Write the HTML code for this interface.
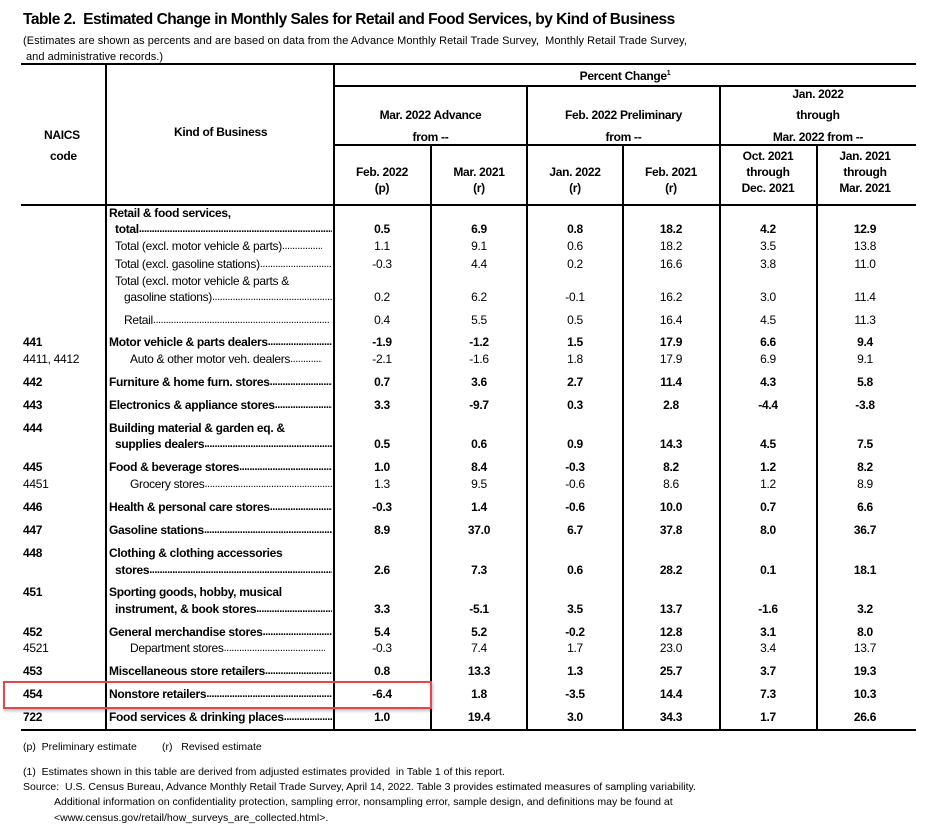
<!DOCTYPE html>
<html><head><meta charset="utf-8"><style>
body{margin:0;width:936px;height:840px;background:#fff;position:relative;font-family:"Liberation Sans",Arial,sans-serif;color:#000;overflow:hidden}
.a{position:absolute;white-space:nowrap;line-height:16px;font-size:12px;letter-spacing:-0.3px}
.b{font-weight:bold}
.c{text-align:center;width:96px}
.h{position:absolute;background:#000}
.l{position:absolute;display:flex;line-height:16px;font-size:12px;letter-spacing:-0.3px;white-space:nowrap;overflow:hidden}
.l .d{flex:1;overflow:hidden;letter-spacing:-0.5px;font-size:11px}
.l .d::after{content:" ........................................................................................................................"}
.f{font-size:10.5px;letter-spacing:0}
</style></head><body>
<div class="a b" style="left:23px;top:10px;font-size:15.5px;line-height:20px;letter-spacing:-0.5px">Table 2.&nbsp; Estimated Change in Monthly Sales for Retail and Food Services, by Kind of Business</div>
<div class="a" style="left:23px;top:33px;font-size:11px;letter-spacing:0.05px">(Estimates are shown as percents and are based on data from the Advance Monthly Retail Trade Survey,&nbsp; Monthly Retail Trade Survey,</div>
<div class="a" style="left:26px;top:49px;font-size:11px;letter-spacing:0.05px">and administrative records.)</div>

<div class="h" style="left:21px;top:63px;width:895px;height:2px"></div>
<div class="h" style="left:334px;top:85px;width:582px;height:2px"></div>
<div class="h" style="left:334px;top:144px;width:582px;height:2px"></div>
<div class="h" style="left:21px;top:204px;width:895px;height:2px"></div>
<div class="h" style="left:21px;top:729px;width:895px;height:2px"></div>
<div class="h" style="left:105px;top:63px;width:2px;height:668px"></div>
<div class="h" style="left:333px;top:63px;width:2px;height:668px"></div>
<div class="h" style="left:430px;top:144px;width:2px;height:587px"></div>
<div class="h" style="left:526px;top:85px;width:2px;height:646px"></div>
<div class="h" style="left:622px;top:144px;width:2px;height:587px"></div>
<div class="h" style="left:719px;top:85px;width:2px;height:646px"></div>
<div class="h" style="left:816px;top:144px;width:2px;height:587px"></div>

<div class="a b" style="left:44px;top:127px">NAICS</div>
<div class="a b" style="left:50px;top:148px">code</div>
<div class="a b" style="left:174px;top:124px">Kind of Business</div>
<div class="a b c" style="left:334px;top:66px;width:582px">Percent Change<sup style="font-size:7px">1</sup></div>
<div class="a b c" style="left:334px;top:107px;width:193px">Mar. 2022 Advance</div>
<div class="a b c" style="left:334px;top:129px;width:193px">from --</div>
<div class="a b c" style="left:527px;top:107px;width:193px">Feb. 2022 Preliminary</div>
<div class="a b c" style="left:527px;top:129px;width:193px">from --</div>
<div class="a b c" style="left:720px;top:86px;width:196px">Jan. 2022</div>
<div class="a b c" style="left:720px;top:107px;width:196px">through</div>
<div class="a b c" style="left:720px;top:129px;width:196px">Mar. 2022 from --</div>
<div class="a b c" style="left:334px;top:164px">Feb. 2022<br>(p)</div>
<div class="a b c" style="left:431px;top:164px">Mar. 2021<br>(r)</div>
<div class="a b c" style="left:527px;top:164px">Jan. 2022<br>(r)</div>
<div class="a b c" style="left:623px;top:164px">Feb. 2021<br>(r)</div>
<div class="a b c" style="left:720px;top:148px">Oct. 2021<br>through<br>Dec. 2021</div>
<div class="a b c" style="left:817px;top:148px">Jan. 2021<br>through<br>Mar. 2021</div>

<div class="a b" style="left:109px;top:205px">Retail &amp; food services,</div>
<div class="l b" style="left:115px;top:221px;width:217px"><span>total</span><span class="d"></span></div>
<div class="a b c" style="left:334px;top:221px">0.5</div><div class="a b c" style="left:431px;top:221px">6.9</div><div class="a b c" style="left:527px;top:221px">0.8</div><div class="a b c" style="left:623px;top:221px">18.2</div><div class="a b c" style="left:720px;top:221px">4.2</div><div class="a b c" style="left:817px;top:221px">12.9</div>

<div class="l" style="left:115px;top:238px;width:207px"><span>Total (excl. motor vehicle &amp; parts)</span><span class="d"></span></div>
<div class="a c" style="left:334px;top:238px">1.1</div><div class="a c" style="left:431px;top:238px">9.1</div><div class="a c" style="left:527px;top:238px">0.6</div><div class="a c" style="left:623px;top:238px">18.2</div><div class="a c" style="left:720px;top:238px">3.5</div><div class="a c" style="left:817px;top:238px">13.8</div>

<div class="l" style="left:115px;top:256px;width:217px"><span>Total (excl. gasoline stations)</span><span class="d"></span></div>
<div class="a c" style="left:334px;top:256px">-0.3</div><div class="a c" style="left:431px;top:256px">4.4</div><div class="a c" style="left:527px;top:256px">0.2</div><div class="a c" style="left:623px;top:256px">16.6</div><div class="a c" style="left:720px;top:256px">3.8</div><div class="a c" style="left:817px;top:256px">11.0</div>

<div class="a" style="left:115px;top:273px">Total (excl. motor vehicle &amp; parts &amp;</div>
<div class="l" style="left:124px;top:289px;width:208px"><span>gasoline stations)</span><span class="d"></span></div>
<div class="a c" style="left:334px;top:289px">0.2</div><div class="a c" style="left:431px;top:289px">6.2</div><div class="a c" style="left:527px;top:289px">-0.1</div><div class="a c" style="left:623px;top:289px">16.2</div><div class="a c" style="left:720px;top:289px">3.0</div><div class="a c" style="left:817px;top:289px">11.4</div>

<div class="l" style="left:124px;top:312px;width:205px"><span>Retail</span><span class="d"></span></div>
<div class="a c" style="left:334px;top:312px">0.4</div><div class="a c" style="left:431px;top:312px">5.5</div><div class="a c" style="left:527px;top:312px">0.5</div><div class="a c" style="left:623px;top:312px">16.4</div><div class="a c" style="left:720px;top:312px">4.5</div><div class="a c" style="left:817px;top:312px">11.3</div>

<div class="a b" style="left:23px;top:334px">441</div>
<div class="l b" style="left:109px;top:334px;width:223px"><span>Motor vehicle &amp; parts dealers</span><span class="d"></span></div>
<div class="a b c" style="left:334px;top:334px">-1.9</div><div class="a b c" style="left:431px;top:334px">-1.2</div><div class="a b c" style="left:527px;top:334px">1.5</div><div class="a b c" style="left:623px;top:334px">17.9</div><div class="a b c" style="left:720px;top:334px">6.6</div><div class="a b c" style="left:817px;top:334px">9.4</div>

<div class="a" style="left:23px;top:351px">4411, 4412</div>
<div class="l" style="left:130px;top:351px;width:192px"><span>Auto &amp; other motor veh. dealers</span><span class="d"></span></div>
<div class="a c" style="left:334px;top:351px">-2.1</div><div class="a c" style="left:431px;top:351px">-1.6</div><div class="a c" style="left:527px;top:351px">1.8</div><div class="a c" style="left:623px;top:351px">17.9</div><div class="a c" style="left:720px;top:351px">6.9</div><div class="a c" style="left:817px;top:351px">9.1</div>

<div class="a b" style="left:23px;top:374px">442</div>
<div class="l b" style="left:109px;top:374px;width:223px"><span>Furniture &amp; home furn. stores</span><span class="d"></span></div>
<div class="a b c" style="left:334px;top:374px">0.7</div><div class="a b c" style="left:431px;top:374px">3.6</div><div class="a b c" style="left:527px;top:374px">2.7</div><div class="a b c" style="left:623px;top:374px">11.4</div><div class="a b c" style="left:720px;top:374px">4.3</div><div class="a b c" style="left:817px;top:374px">5.8</div>

<div class="a b" style="left:23px;top:397px">443</div>
<div class="l b" style="left:109px;top:397px;width:223px"><span>Electronics &amp; appliance stores</span><span class="d"></span></div>
<div class="a b c" style="left:334px;top:397px">3.3</div><div class="a b c" style="left:431px;top:397px">-9.7</div><div class="a b c" style="left:527px;top:397px">0.3</div><div class="a b c" style="left:623px;top:397px">2.8</div><div class="a b c" style="left:720px;top:397px">-4.4</div><div class="a b c" style="left:817px;top:397px">-3.8</div>

<div class="a b" style="left:23px;top:420px">444</div>
<div class="a b" style="left:109px;top:420px">Building material &amp; garden eq. &amp;</div>
<div class="l b" style="left:115px;top:436px;width:217px"><span>supplies dealers</span><span class="d"></span></div>
<div class="a b c" style="left:334px;top:436px">0.5</div><div class="a b c" style="left:431px;top:436px">0.6</div><div class="a b c" style="left:527px;top:436px">0.9</div><div class="a b c" style="left:623px;top:436px">14.3</div><div class="a b c" style="left:720px;top:436px">4.5</div><div class="a b c" style="left:817px;top:436px">7.5</div>

<div class="a b" style="left:23px;top:459px">445</div>
<div class="l b" style="left:109px;top:459px;width:223px"><span>Food &amp; beverage stores</span><span class="d"></span></div>
<div class="a b c" style="left:334px;top:459px">1.0</div><div class="a b c" style="left:431px;top:459px">8.4</div><div class="a b c" style="left:527px;top:459px">-0.3</div><div class="a b c" style="left:623px;top:459px">8.2</div><div class="a b c" style="left:720px;top:459px">1.2</div><div class="a b c" style="left:817px;top:459px">8.2</div>

<div class="a" style="left:23px;top:476px">4451</div>
<div class="l" style="left:130px;top:476px;width:202px"><span>Grocery stores</span><span class="d"></span></div>
<div class="a c" style="left:334px;top:476px">1.3</div><div class="a c" style="left:431px;top:476px">9.5</div><div class="a c" style="left:527px;top:476px">-0.6</div><div class="a c" style="left:623px;top:476px">8.6</div><div class="a c" style="left:720px;top:476px">1.2</div><div class="a c" style="left:817px;top:476px">8.9</div>

<div class="a b" style="left:23px;top:499px">446</div>
<div class="l b" style="left:109px;top:499px;width:223px"><span>Health &amp; personal care stores</span><span class="d"></span></div>
<div class="a b c" style="left:334px;top:499px">-0.3</div><div class="a b c" style="left:431px;top:499px">1.4</div><div class="a b c" style="left:527px;top:499px">-0.6</div><div class="a b c" style="left:623px;top:499px">10.0</div><div class="a b c" style="left:720px;top:499px">0.7</div><div class="a b c" style="left:817px;top:499px">6.6</div>

<div class="a b" style="left:23px;top:522px">447</div>
<div class="l b" style="left:109px;top:522px;width:223px"><span>Gasoline stations</span><span class="d"></span></div>
<div class="a b c" style="left:334px;top:522px">8.9</div><div class="a b c" style="left:431px;top:522px">37.0</div><div class="a b c" style="left:527px;top:522px">6.7</div><div class="a b c" style="left:623px;top:522px">37.8</div><div class="a b c" style="left:720px;top:522px">8.0</div><div class="a b c" style="left:817px;top:522px">36.7</div>

<div class="a b" style="left:23px;top:545px">448</div>
<div class="a b" style="left:109px;top:545px">Clothing &amp; clothing accessories</div>
<div class="l b" style="left:115px;top:562px;width:217px"><span>stores</span><span class="d"></span></div>
<div class="a b c" style="left:334px;top:562px">2.6</div><div class="a b c" style="left:431px;top:562px">7.3</div><div class="a b c" style="left:527px;top:562px">0.6</div><div class="a b c" style="left:623px;top:562px">28.2</div><div class="a b c" style="left:720px;top:562px">0.1</div><div class="a b c" style="left:817px;top:562px">18.1</div>

<div class="a b" style="left:23px;top:584px">451</div>
<div class="a b" style="left:109px;top:584px">Sporting goods, hobby, musical</div>
<div class="l b" style="left:115px;top:601px;width:217px"><span>instrument, &amp; book stores</span><span class="d"></span></div>
<div class="a b c" style="left:334px;top:601px">3.3</div><div class="a b c" style="left:431px;top:601px">-5.1</div><div class="a b c" style="left:527px;top:601px">3.5</div><div class="a b c" style="left:623px;top:601px">13.7</div><div class="a b c" style="left:720px;top:601px">-1.6</div><div class="a b c" style="left:817px;top:601px">3.2</div>

<div class="a b" style="left:23px;top:624px">452</div>
<div class="l b" style="left:109px;top:624px;width:223px"><span>General merchandise stores</span><span class="d"></span></div>
<div class="a b c" style="left:334px;top:624px">5.4</div><div class="a b c" style="left:431px;top:624px">5.2</div><div class="a b c" style="left:527px;top:624px">-0.2</div><div class="a b c" style="left:623px;top:624px">12.8</div><div class="a b c" style="left:720px;top:624px">3.1</div><div class="a b c" style="left:817px;top:624px">8.0</div>

<div class="a" style="left:23px;top:640px">4521</div>
<div class="l" style="left:130px;top:640px;width:195px"><span>Department stores</span><span class="d"></span></div>
<div class="a c" style="left:334px;top:640px">-0.3</div><div class="a c" style="left:431px;top:640px">7.4</div><div class="a c" style="left:527px;top:640px">1.7</div><div class="a c" style="left:623px;top:640px">23.0</div><div class="a c" style="left:720px;top:640px">3.4</div><div class="a c" style="left:817px;top:640px">13.7</div>

<div class="a b" style="left:23px;top:663px">453</div>
<div class="l b" style="left:109px;top:663px;width:223px"><span>Miscellaneous store retailers</span><span class="d"></span></div>
<div class="a b c" style="left:334px;top:663px">0.8</div><div class="a b c" style="left:431px;top:663px">13.3</div><div class="a b c" style="left:527px;top:663px">1.3</div><div class="a b c" style="left:623px;top:663px">25.7</div><div class="a b c" style="left:720px;top:663px">3.7</div><div class="a b c" style="left:817px;top:663px">19.3</div>

<div class="a b" style="left:23px;top:686px">454</div>
<div class="l b" style="left:109px;top:686px;width:223px"><span>Nonstore retailers</span><span class="d"></span></div>
<div class="a b c" style="left:334px;top:686px">-6.4</div><div class="a b c" style="left:431px;top:686px">1.8</div><div class="a b c" style="left:527px;top:686px">-3.5</div><div class="a b c" style="left:623px;top:686px">14.4</div><div class="a b c" style="left:720px;top:686px">7.3</div><div class="a b c" style="left:817px;top:686px">10.3</div>

<div class="a b" style="left:23px;top:709px">722</div>
<div class="l b" style="left:109px;top:709px;width:223px"><span>Food services &amp; drinking places</span><span class="d"></span></div>
<div class="a b c" style="left:334px;top:709px">1.0</div><div class="a b c" style="left:431px;top:709px">19.4</div><div class="a b c" style="left:527px;top:709px">3.0</div><div class="a b c" style="left:623px;top:709px">34.3</div><div class="a b c" style="left:720px;top:709px">1.7</div><div class="a b c" style="left:817px;top:709px">26.6</div>

<div style="position:absolute;left:3px;top:681px;width:425px;height:24px;border:2px solid #e8454a;box-shadow:1px 2px 3px rgba(0,0,0,0.25)"></div>

<div class="a f" style="left:23px;top:739px">(p)&nbsp; Preliminary estimate</div>
<div class="a f" style="left:162px;top:739px">(r)&nbsp;&nbsp; Revised estimate</div>
<div class="a f" style="left:23px;top:764px">(1)&nbsp; Estimates shown in this table are derived from adjusted estimates provided&nbsp; in Table 1 of this report.</div>
<div class="a f" style="left:23px;top:779px">Source:&nbsp; U.S. Census Bureau, Advance Monthly Retail Trade Survey, April 14, 2022. Table 3 provides estimated measures of sampling variability.</div>
<div class="a f" style="left:54px;top:794px">Additional information on confidentiality protection, sampling error, nonsampling error, sample design, and definitions may be found at</div>
<div class="a f" style="left:54px;top:810px">&lt;www.census.gov/retail/how_surveys_are_collected.html&gt;.</div>
</body></html>
